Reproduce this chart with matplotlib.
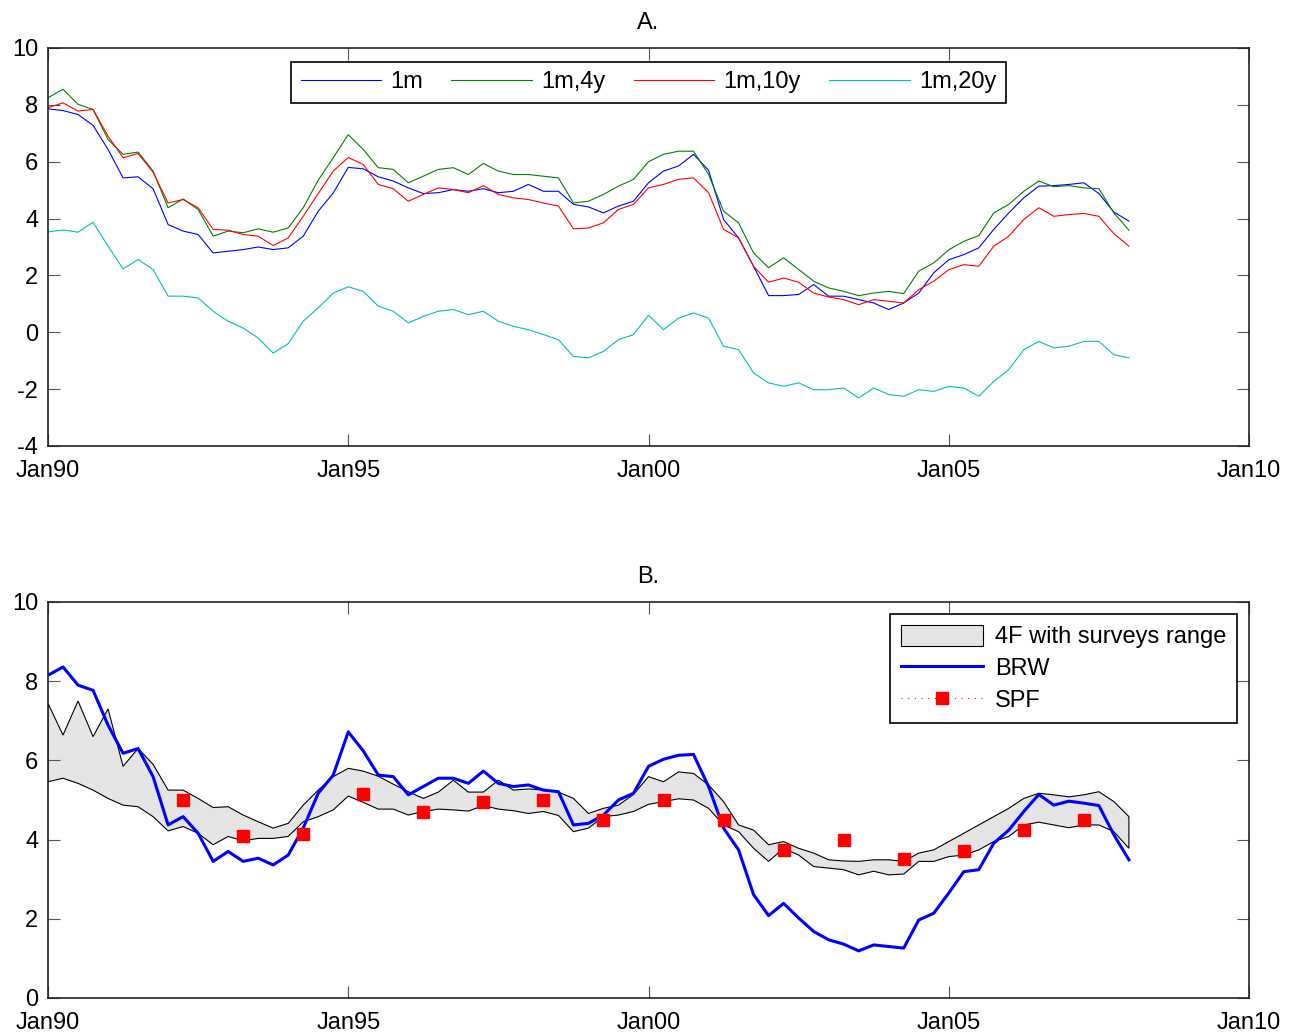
import numpy as np
import matplotlib
matplotlib.use("Agg")
import matplotlib.pyplot as plt
from matplotlib.lines import Line2D
from matplotlib.patches import Patch

plt.rcParams["font.family"] = ["Liberation Sans", "DejaVu Sans"]
plt.rcParams["axes.unicode_minus"] = False

# ==========================================
# DATA (quarterly, Jan90 .. Jan08)
# ==========================================

dates = 1990 + np.arange(73) / 4.0

r_1m = [7.86, 7.80, 7.66, 7.28, 6.43, 5.43, 5.47, 5.05, 3.79, 3.56,
        3.44, 2.79, 2.85, 2.91, 3.00, 2.91, 2.97, 3.38, 4.26, 4.90,
        5.80, 5.75, 5.47, 5.32, 5.08, 4.88, 4.91, 5.02, 4.96, 5.05,
        4.91, 4.96, 5.20, 4.96, 4.96, 4.50, 4.41, 4.20, 4.44, 4.61,
        5.26, 5.67, 5.85, 6.26, 5.70, 3.97, 3.32, 2.32, 1.29, 1.29,
        1.33, 1.68, 1.27, 1.27, 1.15, 1.03, 0.80, 1.03, 1.38, 2.09,
        2.55, 2.73, 2.97, 3.62, 4.20, 4.73, 5.14, 5.16, 5.20, 5.26,
        4.88, 4.23, 3.91]

r_1m_4y = [8.25, 8.55, 8.02, 7.84, 6.78, 6.26, 6.34, 5.67, 4.38, 4.69,
           4.32, 3.38, 3.56, 3.50, 3.64, 3.52, 3.67, 4.38, 5.35, 6.14,
           6.95, 6.43, 5.79, 5.73, 5.26, 5.49, 5.73, 5.79, 5.55, 5.94,
           5.67, 5.55, 5.55, 5.49, 5.43, 4.55, 4.61, 4.85, 5.14, 5.38,
           6.00, 6.26, 6.37, 6.37, 5.55, 4.26, 3.85, 2.79, 2.27, 2.62,
           2.21, 1.80, 1.56, 1.44, 1.29, 1.38, 1.44, 1.36, 2.15, 2.44,
           2.90, 3.20, 3.40, 4.20, 4.50, 4.96, 5.32, 5.12, 5.16, 5.08,
           5.05, 4.20, 3.59]

r_1m_10y = [7.90, 8.07, 7.78, 7.84, 6.90, 6.14, 6.29, 5.63, 4.55, 4.67,
            4.38, 3.62, 3.59, 3.44, 3.38, 3.05, 3.32, 4.08, 4.88, 5.67,
            6.15, 5.90, 5.20, 5.05, 4.61, 4.85, 5.08, 5.02, 4.91, 5.16,
            4.85, 4.73, 4.67, 4.55, 4.44, 3.64, 3.67, 3.85, 4.32, 4.50,
            5.08, 5.20, 5.38, 5.43, 4.91, 3.62, 3.32, 2.32, 1.76, 1.91,
            1.76, 1.38, 1.24, 1.15, 0.97, 1.15, 1.09, 1.03, 1.50, 1.80,
            2.20, 2.38, 2.32, 3.03, 3.38, 3.97, 4.38, 4.08, 4.14, 4.18,
            4.08, 3.47, 3.03]

r_1m_20y = [3.53, 3.60, 3.52, 3.87, 3.03, 2.23, 2.56, 2.21, 1.27, 1.27,
            1.21, 0.74, 0.39, 0.15, -0.20, -0.73, -0.40, 0.39, 0.86, 1.38,
            1.60, 1.44, 0.92, 0.74, 0.33, 0.56, 0.74, 0.80, 0.62, 0.74,
            0.39, 0.21, 0.09, -0.08, -0.26, -0.85, -0.90, -0.67, -0.26, -0.08,
            0.60, 0.09, 0.50, 0.68, 0.50, -0.49, -0.61, -1.43, -1.78, -1.90,
            -1.78, -2.02, -2.02, -1.96, -2.31, -1.96, -2.19, -2.25, -2.02, -2.08,
            -1.90, -1.96, -2.25, -1.73, -1.31, -0.61, -0.32, -0.55, -0.49, -0.32,
            -0.32, -0.79, -0.90]

brw = [8.15, 8.36, 7.90, 7.77, 6.89, 6.18, 6.30, 5.59, 4.37, 4.58,
       4.16, 3.45, 3.70, 3.45, 3.53, 3.36, 3.61, 4.29, 5.17, 5.63,
       6.72, 6.24, 5.63, 5.59, 5.13, 5.34, 5.55, 5.55, 5.42, 5.73,
       5.42, 5.34, 5.38, 5.25, 5.21, 4.37, 4.41, 4.62, 5.00, 5.17,
       5.85, 6.03, 6.13, 6.15, 5.34, 4.29, 3.74, 2.61, 2.08, 2.39,
       2.02, 1.68, 1.47, 1.36, 1.19, 1.34, 1.30, 1.26, 1.97, 2.14,
       2.65, 3.19, 3.24, 3.91, 4.24, 4.71, 5.14, 4.87, 4.97, 4.92,
       4.86, 4.12, 3.49]

band_upper = [7.44, 6.64, 7.50, 6.60, 7.30, 5.85, 6.30, 5.90, 5.25, 5.25,
              5.04, 4.81, 4.83, 4.62, 4.45, 4.29, 4.41, 4.87, 5.25, 5.59,
              5.80, 5.73, 5.60, 5.40, 5.21, 5.04, 5.20, 5.50, 5.20, 5.20,
              5.50, 5.25, 5.28, 5.25, 5.20, 5.04, 4.66, 4.79, 4.87, 5.14,
              5.59, 5.46, 5.71, 5.67, 5.38, 4.96, 4.37, 4.24, 3.87, 3.95,
              3.78, 3.66, 3.49, 3.46, 3.45, 3.49, 3.49, 3.45, 3.66, 3.74,
              3.95, 4.16, 4.37, 4.58, 4.79, 5.04, 5.17, 5.13, 5.08, 5.13,
              5.21, 4.96, 4.58]

band_lower = [5.46, 5.55, 5.42, 5.25, 5.04, 4.87, 4.83, 4.58, 4.22, 4.33,
              4.16, 3.87, 4.08, 3.97, 4.03, 4.03, 4.08, 4.45, 4.58, 4.75,
              5.10, 4.94, 4.77, 4.77, 4.62, 4.71, 4.77, 4.75, 4.72, 4.86,
              4.77, 4.73, 4.66, 4.71, 4.61, 4.20, 4.29, 4.58, 4.62, 4.71,
              4.89, 4.96, 5.03, 5.00, 4.79, 4.37, 4.20, 3.78, 3.45, 3.78,
              3.61, 3.32, 3.28, 3.24, 3.11, 3.20, 3.11, 3.13, 3.45, 3.45,
              3.57, 3.61, 3.74, 3.95, 4.08, 4.37, 4.44, 4.37, 4.30, 4.37,
              4.37, 4.20, 3.78]

spf_dates = 1992.25 + np.arange(16)
spf = [5.0, 4.1, 4.15, 5.15, 4.7, 4.95, 5.0, 4.5,
       5.0, 4.5, 3.75, 4.0, 3.5, 3.7, 4.25, 4.5]

xtick_vals = [1990, 1995, 2000, 2005, 2010]
xtick_labels = ["Jan90", "Jan95", "Jan00", "Jan05", "Jan10"]

FS = 17


def style_axes(ax, ylim, yticks):
    ax.set_xlim(1990, 2010)
    ax.set_ylim(*ylim)
    ax.set_xticks(xtick_vals)
    ax.set_xticklabels(xtick_labels)
    ax.set_yticks(yticks)
    ax.tick_params(direction="in", length=8.5, width=0.8, color="#555555",
                   top=True, right=True, labelsize=FS)
    ax.tick_params(axis="y", pad=7)
    ax.tick_params(axis="x", pad=10)
    for sp in ax.spines.values():
        sp.set_linewidth(1.2)
        sp.set_color("#222222")


fig = plt.figure(figsize=(12.93, 10.34), dpi=100)

# ==========================================
# PANEL A
# ==========================================

ax1 = fig.add_axes([48 / 1293, 1 - 446 / 1034, 1201 / 1293, 398 / 1034])
ax1.plot(dates, r_1m, color="#0000ff", lw=0.8, label="1m")
ax1.plot(dates, r_1m_4y, color="#008000", lw=0.8, label="1m,4y")
ax1.plot(dates, r_1m_10y, color="#ff0000", lw=0.8, label="1m,10y")
ax1.plot(dates, r_1m_20y, color="#00bfbf", lw=0.8, label="1m,20y")
style_axes(ax1, (-4, 10), range(-4, 11, 2))
ax1.set_title("A.", fontsize=FS, pad=14)
leg1 = ax1.legend(loc="upper center", bbox_to_anchor=(0.5, 0.965), ncol=4,
                  fontsize=FS, frameon=True, fancybox=False, borderaxespad=0,
                  handlelength=3.4, handletextpad=0.4, columnspacing=1.2,
                  borderpad=0.4)
leg1.get_frame().set_edgecolor("black")
leg1.get_frame().set_linewidth(1.2)
leg1.get_frame().set_alpha(1)

# ==========================================
# PANEL B
# ==========================================

ax2 = fig.add_axes([48 / 1293, 1 - 998 / 1034, 1201 / 1293, 396 / 1034])
poly_x = np.concatenate([dates, dates[::-1]])
poly_y = np.concatenate([band_upper, band_lower[::-1]])
ax2.fill(poly_x, poly_y, facecolor="#e5e5e5", edgecolor="black", lw=0.8)
ax2.plot(dates, brw, color="#0000ff", lw=2.2)
ax2.plot(spf_dates, spf, ls="none", marker="s", ms=9, color="#ff0000")
style_axes(ax2, (0, 10), range(0, 11, 2))
ax2.set_title("B.", fontsize=FS, pad=14)

handles = [
    Patch(facecolor="#e5e5e5", edgecolor="black", lw=0.8),
    Line2D([], [], color="#0000ff", lw=2.2),
    Line2D([], [], color="#ff0000", lw=0.8, ls=(0, (1, 5)), marker="s", ms=9),
]
leg2 = ax2.legend(handles, ["4F with surveys range", "BRW", "SPF"],
                  loc="upper right", bbox_to_anchor=(0.99, 0.97),
                  fontsize=FS, frameon=True, fancybox=False, borderaxespad=0,
                  handlelength=3.5, handleheight=1.0, handletextpad=0.5,
                  labelspacing=0.35, borderpad=0.45, numpoints=1)
leg2.get_frame().set_edgecolor("black")
leg2.get_frame().set_linewidth(1.2)
leg2.get_frame().set_alpha(1)

plt.savefig("out.png", dpi=100)
